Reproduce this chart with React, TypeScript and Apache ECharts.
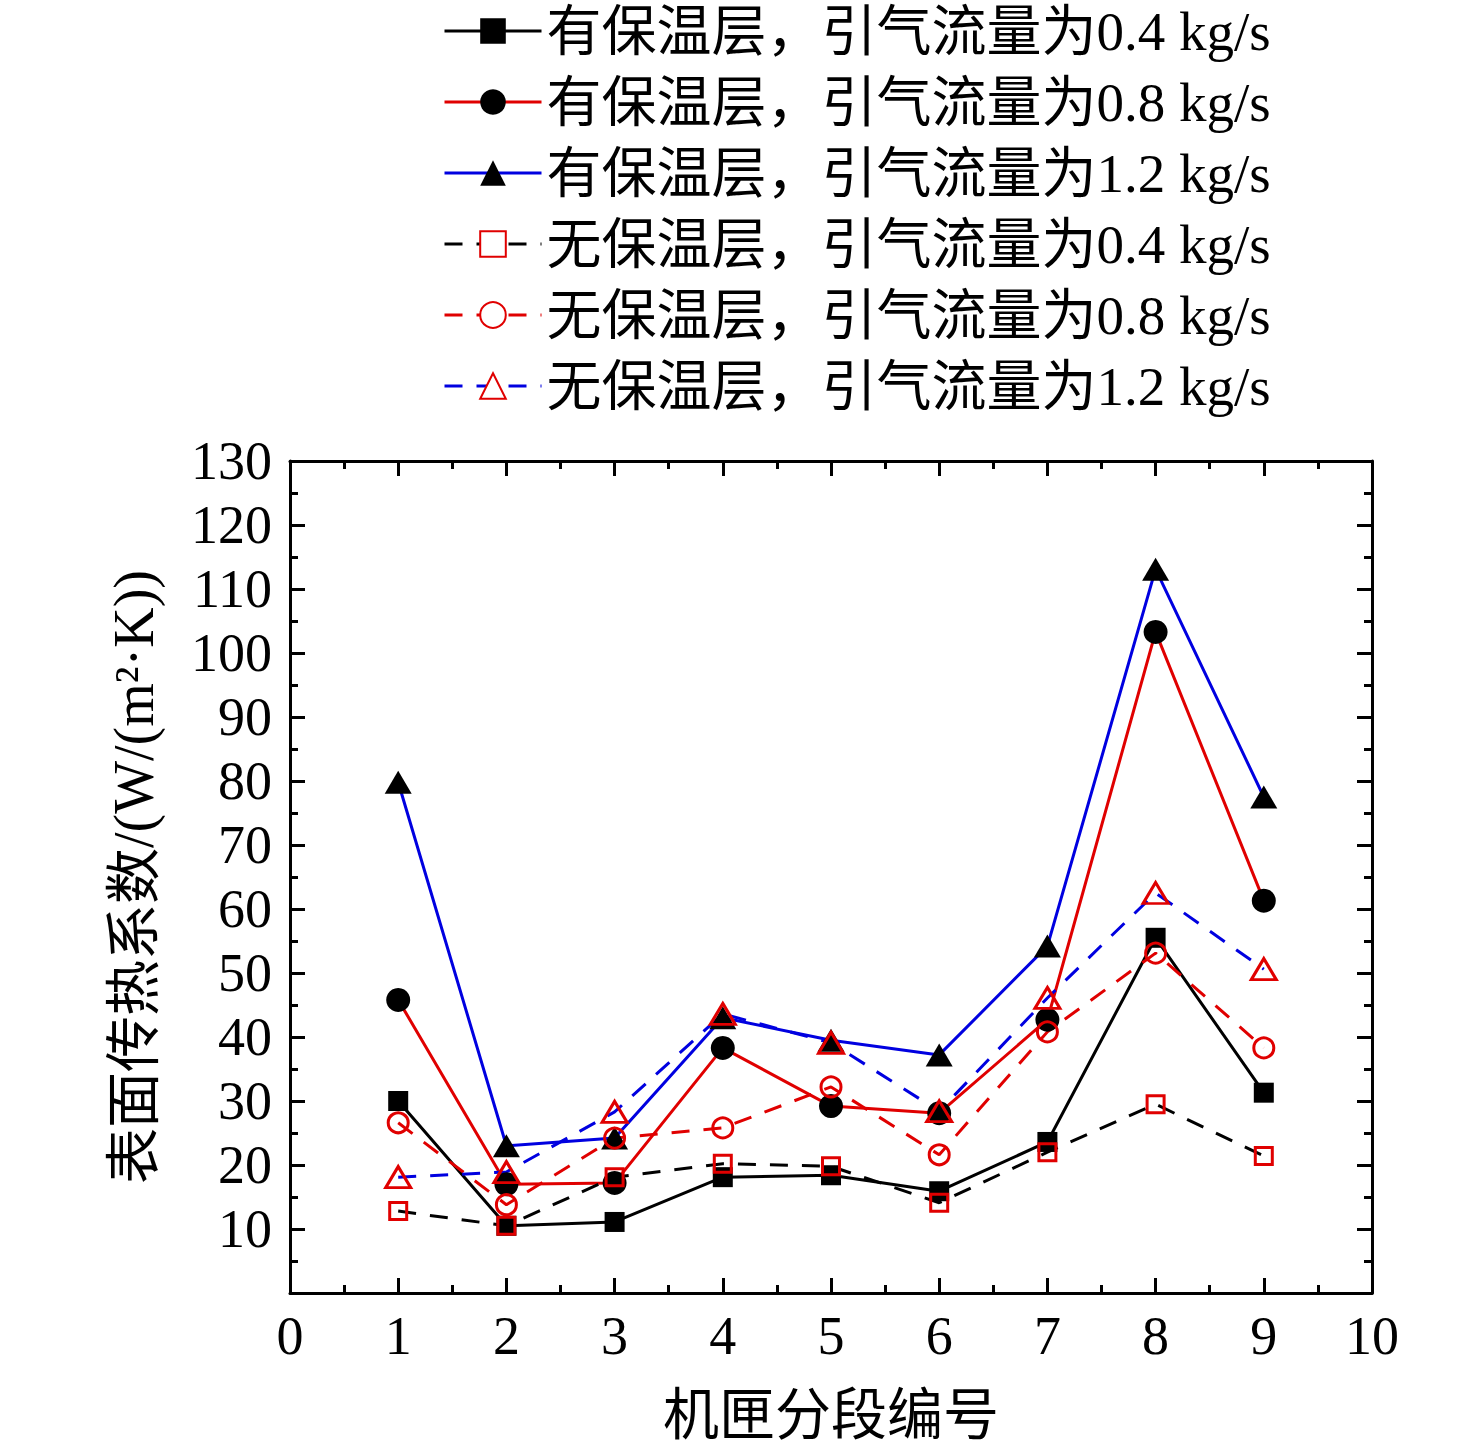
import React, { useEffect, useRef } from "react";
import * as echarts from "echarts";

const segments = [1, 2, 3, 4, 5, 6, 7, 8, 9];
const names = [
  "有保温层，引气流量为0.4 kg/s",
  "有保温层，引气流量为0.8 kg/s",
  "有保温层，引气流量为1.2 kg/s",
  "无保温层，引气流量为0.4 kg/s",
  "无保温层，引气流量为0.8 kg/s",
  "无保温层，引气流量为1.2 kg/s",
];
const insul04 = [30, 10.5, 11.1, 18.1, 18.4, 15.9, 23.6, 55.5, 31.3];
const insul08 = [45.8, 17.0, 17.2, 38.3, 29.2, 28.1, 42.7, 103.3, 61.3];
const insul12 = [79.8, 23.0, 24.2, 43.0, 39.5, 37.2, 54.2, 113.1, 77.5];
const bare04 = [12.8, 10.5, 18.1, 20.2, 19.8, 14.1, 22.0, 29.5, 21.4];
const bare08 = [26.6, 13.8, 24.2, 25.8, 32.2, 21.6, 40.8, 53.1, 38.3];
const bare12 = [18.1, 18.9, 28.3, 43.6, 39.1, 28.4, 46.1, 62.5, 50.6];

const FONT = "'Times New Roman', 'Liberation Serif', 'Noto Sans CJK SC', serif";

export default function App() {
  const ref = useRef<HTMLDivElement>(null);
  useEffect(() => {
    if (!ref.current) return;
    const chart = echarts.init(ref.current, null, { renderer: "svg" });
    const pair = (arr: number[]) => segments.map((x, i) => [x, arr[i]]);
    const mk = (
      name: string,
      data: number[],
      lineColor: string,
      dashed: boolean,
      symbol: string,
      size: number | number[],
      filled: boolean
    ) => ({
      name,
      type: "line",
      data: pair(data),
      symbol,
      symbolSize: size,
      lineStyle: { color: lineColor, width: 3, type: dashed ? [18, 14] : "solid" },
      itemStyle: filled
        ? { color: "#000" }
        : { color: "rgba(255,255,255,0)", borderColor: "#e00000", borderWidth: 3 },
      emphasis: { disabled: true },
    });
    const axisCommon = {
      axisLine: { show: true, onZero: false, lineStyle: { color: "#000", width: 3 } },
      axisTick: { show: true, inside: true, length: 15, lineStyle: { color: "#000", width: 3 } },
      minorTick: { show: true, splitNumber: 2, length: 8, lineStyle: { color: "#000", width: 3 } },
      splitLine: { show: false },
    };
    chart.setOption({
      animation: false,
      backgroundColor: "#fff",
      grid: { left: 290, right: 104, top: 461, bottom: 162 },
      legend: {
        orient: "vertical",
        left: 443,
        top: 1,
        padding: 0,
        itemWidth: 97,
        itemHeight: 32,
        itemGap: 11,
        lineStyle: { width: 3 },
        textStyle: { fontFamily: FONT, fontSize: 55, color: "#000", lineHeight: 60 },
        data: names.map((n, i) => ({
          name: n,
          itemStyle: i >= 3 ? { color: "#fff" } : undefined,
        })),
      },
      xAxis: [
        {
          type: "value",
          min: 0,
          max: 10,
          interval: 1,
          ...axisCommon,
          axisLabel: { fontFamily: FONT, fontSize: 54, color: "#000", margin: 16 },
          name: "机匣分段编号",
          nameLocation: "middle",
          nameGap: 94,
          nameTextStyle: { fontFamily: FONT, fontSize: 56, color: "#000" },
        },
        {
          type: "value",
          position: "top",
          min: 0,
          max: 10,
          interval: 1,
          ...axisCommon,
          axisLabel: { show: false },
        },
      ],
      yAxis: [
        {
          type: "value",
          min: 0,
          max: 130,
          interval: 10,
          ...axisCommon,
          axisLabel: {
            fontFamily: FONT,
            fontSize: 54,
            color: "#000",
            margin: 18,
            formatter: (v: number) => (v === 0 ? "" : String(v)),
          },
          name: "表面传热系数/(W/(m²·K))",
          nameLocation: "middle",
          nameGap: 128,
          nameTextStyle: { fontFamily: FONT, fontSize: 56, color: "#000" },
        },
        {
          type: "value",
          position: "right",
          min: 0,
          max: 130,
          interval: 10,
          ...axisCommon,
          axisLabel: { show: false },
        },
      ],
      series: [
        mk(names[0], insul04, "#000", false, "rect", 20, true),
        mk(names[1], insul08, "#e00000", false, "circle", 24, true),
        mk(names[2], insul12, "#0000e0", false, "triangle", [27, 23], true),
        mk(names[3], bare04, "#000", true, "rect", 17, false),
        mk(names[4], bare08, "#e00000", true, "circle", 20, false),
        mk(names[5], bare12, "#0000e0", true, "triangle", [25, 21], false),
      ],
    });
    return () => chart.dispose();
  }, []);
  return (
    <div
      ref={ref}
      style={{ position: "absolute", left: 0, top: 0, width: 1476, height: 1455 }}
    />
  );
}
